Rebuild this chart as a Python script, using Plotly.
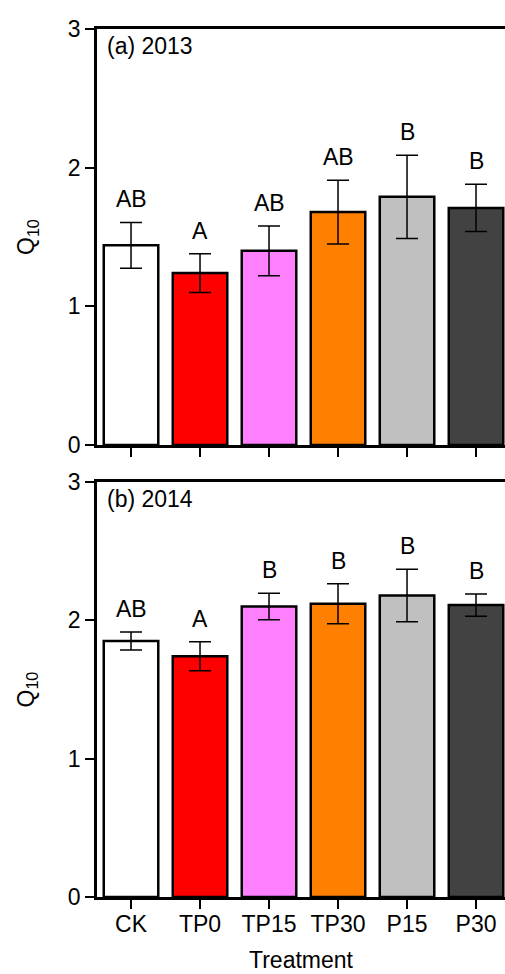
import plotly.graph_objects as go

# Treatments and fill colours
treatments = ["CK", "TP0", "TP15", "TP30", "P15", "P30"]
bar_colors = ["#FFFFFF", "#FF0000", "#FF80FF", "#FF8000", "#C0C0C0", "#424242"]

# Q10 means, standard errors and significance letters per year
q10_2013 = [1.44, 1.24, 1.40, 1.68, 1.79, 1.71]
se_2013 = [0.165, 0.14, 0.18, 0.23, 0.30, 0.17]
letters_2013 = ["AB", "A", "AB", "AB", "B", "B"]

q10_2014 = [1.85, 1.74, 2.10, 2.12, 2.18, 2.11]
se_2014 = [0.065, 0.105, 0.095, 0.145, 0.19, 0.08]
letters_2014 = ["AB", "A", "B", "B", "B", "B"]

y_ticks = [0, 1, 2, 3]

FONT = "Liberation Sans, Arial, sans-serif"
FS = 23
W, H = 505, 974
M_L, M_R, M_T, M_B = 97, 0, 29, 77

fig = go.Figure()

panels = [
    # (values, errors, letters, x-axis id, y-axis id)
    (q10_2013, se_2013, letters_2013, "x2", "y2"),
    (q10_2014, se_2014, letters_2014, "x", "y"),
]

for vals, errs, lets, xa, ya in panels:
    fig.add_trace(go.Bar(
        x=treatments, y=vals,
        marker=dict(color=bar_colors, line=dict(color="black", width=2.5)),
        width=0.79,
        error_y=dict(type="data", array=errs, visible=True,
                     color="black", thickness=1.5, width=11),
        xaxis=xa, yaxis=ya, showlegend=False,
    ))
    for t, v, e, s in zip(treatments, vals, errs, lets):
        fig.add_annotation(
            x=t, y=v + e, xref=xa, yref=ya, text=s, showarrow=False,
            yanchor="bottom", yshift=8,
            font=dict(family=FONT, size=FS, color="black"),
        )

plot_h = H - M_T - M_B
top_lo = (H - M_B - 445) / plot_h
bot_hi = (H - M_B - 482) / plot_h

x_range = [-0.493, 5.42]

axis_common = dict(
    showline=True, linecolor="black", linewidth=2.5,
    ticks="outside", ticklen=9, tickwidth=2, tickcolor="black",
    showgrid=False, zeroline=False,
    tickfont=dict(family=FONT, size=FS, color="black"),
)

fig.update_layout(
    width=W, height=H,
    margin=dict(l=M_L, r=M_R, t=M_T, b=M_B),
    plot_bgcolor="white", paper_bgcolor="white",
    xaxis=dict(axis_common, type="category", range=x_range, mirror=True,
               anchor="y", domain=[0, 1], ticklabelstandoff=-4,
               title=dict(text="Treatment", standoff=16,
                          font=dict(family=FONT, size=FS, color="black"))),
    yaxis=dict(axis_common, range=[0, 3], tickvals=y_ticks,
               domain=[0, bot_hi], anchor="x"),
    xaxis2=dict(axis_common, type="category", range=x_range, mirror=True,
                anchor="y2", domain=[0, 1], showticklabels=False),
    yaxis2=dict(axis_common, range=[0, 3], tickvals=y_ticks,
                domain=[top_lo, 1], anchor="x2"),
)

# Panel captions and y-axis titles
for label, ytop, ymid in [("(a) 2013", 1, (top_lo + 1) / 2),
                          ("(b) 2014", bot_hi, bot_hi / 2)]:
    fig.add_annotation(
        x=0, y=ytop, xref="paper", yref="paper", text=label,
        showarrow=False, xanchor="left", yanchor="top", xshift=8, yshift=-2,
        font=dict(family=FONT, size=FS, color="black"),
    )
    fig.add_annotation(
        x=0, y=ymid, xref="paper", yref="paper", text="Q<sub>10</sub>",
        showarrow=False, textangle=-90, xanchor="center", yanchor="middle",
        xshift=-70,
        font=dict(family=FONT, size=FS, color="black"),
    )

fig.write_html("out.html")
